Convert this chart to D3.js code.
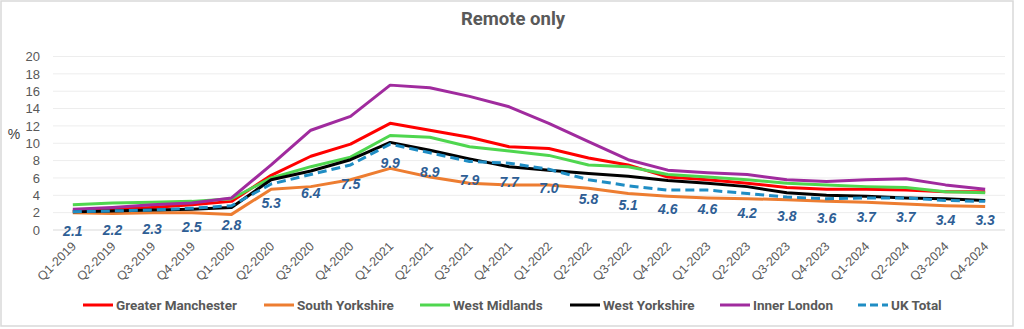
<!DOCTYPE html>
<html>
<head>
<meta charset="utf-8">
<script src="https://cdn.jsdelivr.net/npm/d3@7"></script>
<style>
  html, body { margin: 0; padding: 0; background: #fff; }
  svg { display: block; }
</style>
</head>
<body>
<svg id="chart" width="1024" height="329"></svg>
<script>
// Quarterly share of workers who work remotely only (%)
const quarters = [
  "Q1-2019", "Q2-2019", "Q3-2019", "Q4-2019",
  "Q1-2020", "Q2-2020", "Q3-2020", "Q4-2020",
  "Q1-2021", "Q2-2021", "Q3-2021", "Q4-2021",
  "Q1-2022", "Q2-2022", "Q3-2022", "Q4-2022",
  "Q1-2023", "Q2-2023", "Q3-2023", "Q4-2023",
  "Q1-2024", "Q2-2024", "Q3-2024", "Q4-2024"
];
const greaterManchester = [2.2, 2.4, 2.6, 2.9, 3.3, 6.3, 8.5, 9.9, 12.3, 11.5, 10.7, 9.6, 9.4, 8.3, 7.5, 6.1, 5.8, 5.4, 4.9, 4.7, 4.7, 4.6, 4.4, 4.4];
const southYorkshire    = [2.0, 1.9, 2.0, 2.0, 1.8, 4.7, 5.0, 5.8, 7.1, 6.1, 5.4, 5.2, 5.2, 4.8, 4.2, 3.9, 3.7, 3.6, 3.5, 3.3, 3.2, 3.0, 2.8, 2.7];
const westMidlands      = [2.9, 3.1, 3.2, 3.3, 3.6, 6.0, 7.3, 8.4, 10.9, 10.7, 9.6, 9.1, 8.6, 7.5, 7.3, 6.4, 6.1, 5.8, 5.4, 5.2, 5.0, 4.9, 4.4, 4.3];
const westYorkshire     = [2.1, 2.2, 2.3, 2.4, 2.6, 5.8, 6.8, 8.1, 10.1, 9.2, 8.2, 7.3, 6.9, 6.5, 6.2, 5.7, 5.4, 5.0, 4.3, 4.0, 3.9, 3.7, 3.6, 3.4];
const innerLondon       = [2.4, 2.6, 2.9, 3.1, 3.7, 7.5, 11.5, 13.1, 16.7, 16.4, 15.4, 14.2, 12.3, 10.2, 8.1, 6.9, 6.6, 6.4, 5.8, 5.6, 5.8, 5.9, 5.2, 4.7];
const ukTotal           = [2.1, 2.2, 2.3, 2.5, 2.8, 5.3, 6.4, 7.5, 9.9, 8.9, 7.9, 7.7, 7.0, 5.8, 5.1, 4.6, 4.6, 4.2, 3.8, 3.6, 3.7, 3.7, 3.4, 3.3];
const yTicks = [0, 2, 4, 6, 8, 10, 12, 14, 16, 18, 20];

const seriesNames  = ["Greater Manchester", "South Yorkshire", "West Midlands", "West Yorkshire", "Inner London", "UK Total"];
const seriesValues = [greaterManchester, southYorkshire, westMidlands, westYorkshire, innerLondon, ukTotal];
const seriesColors = ["#FF0000", "#ED7D31", "#4FD64F", "#000000", "#A02B9E", "#1F8DC4"];

const series = seriesNames.map((name, i) => ({
  name, values: seriesValues[i], color: seriesColors[i], dashed: name === "UK Total"
}));

const svg = d3.select("#chart");
const plot = { left: 53, right: 1005, top: 56.5, bottom: 230 };

// outer frame
svg.append("rect")
  .attr("x", 1).attr("y", 1).attr("width", 1012).attr("height", 325)
  .attr("fill", "#fff").attr("stroke", "#D9D9D9").attr("stroke-width", 1.5);

// title
svg.append("text")
  .attr("x", 513).attr("y", 25)
  .attr("text-anchor", "middle")
  .attr("font-family", "Roboto, 'Liberation Sans', sans-serif")
  .attr("font-weight", "bold").attr("font-size", 18.5)
  .attr("fill", "#595959")
  .text("Remote only");

const x = d3.scaleBand().domain(quarters).range([plot.left, plot.right]);
const y = d3.scaleLinear().domain([0, 20]).range([plot.bottom, plot.top]);
const cx = q => x(q) + x.bandwidth() / 2;

// gridlines
svg.append("g").selectAll("line")
  .data(yTicks)
  .join("line")
  .attr("x1", plot.left).attr("x2", plot.right)
  .attr("y1", d => y(d)).attr("y2", d => y(d))
  .attr("stroke", d => d === 0 ? "#D9D9D9" : "#EDEDED")
  .attr("stroke-width", 1);

// y axis labels
const yAxis = svg.append("g")
  .attr("transform", `translate(${plot.left - 13},0)`)
  .call(d3.axisLeft(y).tickValues(yTicks).tickSize(0).tickPadding(0));
yAxis.select(".domain").remove();
yAxis.selectAll("text")
  .attr("font-family", "'Liberation Sans', Arial, sans-serif")
  .attr("font-size", 13)
  .attr("fill", "#595959");

svg.append("text")
  .attr("x", 14).attr("y", 139)
  .attr("text-anchor", "middle")
  .attr("font-family", "'Liberation Sans', Arial, sans-serif")
  .attr("font-size", 14)
  .attr("fill", "#404040")
  .text("%");

// x axis labels
const xAxis = svg.append("g")
  .attr("transform", `translate(0,${plot.bottom})`)
  .call(d3.axisBottom(x).tickSize(0).tickPadding(0));
xAxis.select(".domain").remove();
xAxis.selectAll("text")
  .attr("font-family", "'Liberation Sans', Arial, sans-serif")
  .attr("font-size", 12.5)
  .attr("fill", "#595959")
  .attr("text-anchor", "end")
  .attr("dy", null)
  .attr("transform", "translate(4,17) rotate(-45)");

// series lines
const line = d3.line()
  .x((d, i) => cx(quarters[i]))
  .y(d => y(d));

svg.append("g").selectAll("path")
  .data(series)
  .join("path")
  .attr("d", s => line(s.values))
  .attr("fill", "none")
  .attr("stroke", s => s.color)
  .attr("stroke-width", 3)
  .attr("stroke-linejoin", "round")
  .attr("stroke-dasharray", s => s.dashed ? "9,5" : null);

// UK Total value labels
svg.append("g").selectAll("text")
  .data(ukTotal)
  .join("text")
  .attr("x", (d, i) => cx(quarters[i]))
  .attr("y", d => y(d) + 24)
  .attr("text-anchor", "middle")
  .attr("font-family", "'Liberation Sans', Arial, sans-serif")
  .attr("font-weight", "bold").attr("font-style", "italic")
  .attr("font-size", 14)
  .attr("fill", "#2E5E95")
  .text(d => d.toFixed(1));

// legend
const legendX = [83, 264, 420, 570, 720, 858];
const legend = svg.append("g").selectAll("g")
  .data(series)
  .join("g")
  .attr("transform", (s, i) => `translate(${legendX[i]},305)`);
legend.append("line")
  .attr("x1", 0).attr("x2", 30).attr("y1", 0).attr("y2", 0)
  .attr("stroke", s => s.color).attr("stroke-width", 3)
  .attr("stroke-dasharray", s => s.dashed ? "8,4" : null);
legend.append("text")
  .attr("x", 33).attr("y", 0).attr("dy", "0.36em")
  .attr("font-family", "Roboto, 'Liberation Sans', sans-serif")
  .attr("font-weight", "bold").attr("font-size", 13.5)
  .attr("fill", "#595959")
  .text(s => s.name);
</script>
</body>
</html>
